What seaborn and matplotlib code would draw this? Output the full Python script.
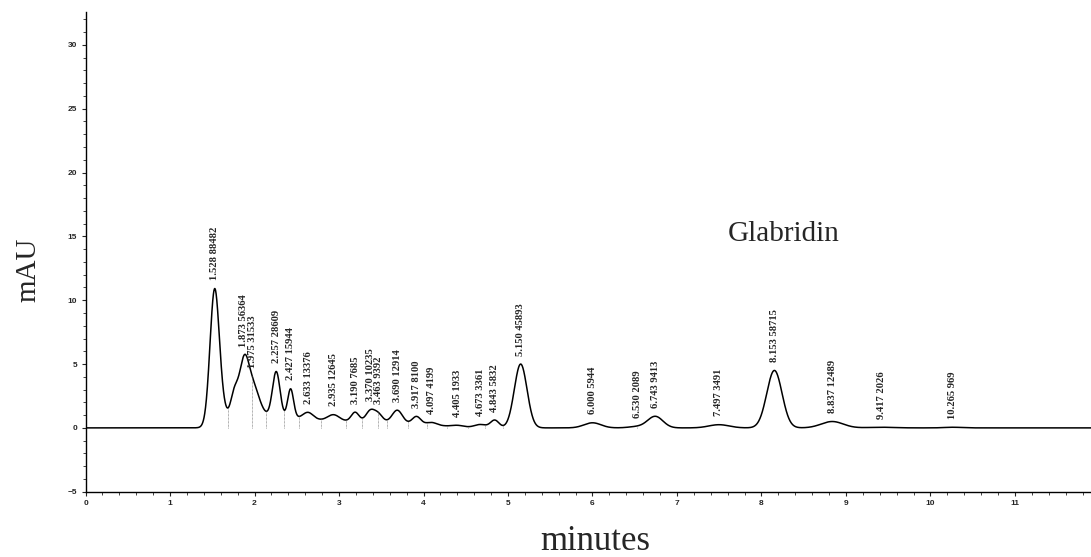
import numpy as np
import pandas as pd
import matplotlib
matplotlib.use("Agg")
import matplotlib.pyplot as plt
import seaborn as sns
from matplotlib.ticker import MultipleLocator

# Integrated peaks: retention time (min), area, apex height (mAU), width (sigma, min)
peak_rt = [1.528, 1.873, 1.975, 2.257, 2.427, 2.633, 2.935, 3.190, 3.370, 3.463,
           3.690, 3.917, 4.097, 4.405, 4.673, 4.843, 5.150, 6.000, 6.530, 6.743,
           7.497, 8.153, 8.837, 9.417, 10.265]
peak_area = [88482, 56364, 31533, 28609, 15944, 13376, 12645, 7685, 10235, 9392,
             12914, 8100, 4199, 1933, 3361, 5832, 45893, 5944, 2089, 9413,
             3491, 58715, 12489, 2026, 969]
peak_height = [10.7, 3.7, 2.2, 3.6, 2.3, 0.5, 0.5, 0.7, 0.8, 0.6,
               1.0, 0.6, 0.2, 0.12, 0.25, 0.6, 5.0, 0.4, 0.1, 0.9,
               0.25, 4.5, 0.5, 0.05, 0.05]
peak_width = [0.055, 0.055, 0.075, 0.045, 0.035, 0.06, 0.07, 0.045, 0.05, 0.05,
              0.06, 0.05, 0.06, 0.07, 0.07, 0.05, 0.075, 0.1, 0.1, 0.09,
              0.12, 0.09, 0.13, 0.15, 0.1]

# Unresolved tail, shoulder and raised baseline under the early cluster
hump_rt = [1.63, 1.76, 1.95, 2.5, 3.3, 4.0]
hump_height = [0.8, 2.0, 1.0, 0.7, 0.5, 0.2]
hump_width = [0.05, 0.045, 0.2, 0.3, 0.35, 0.3]

x_ticks = list(range(0, 12))
y_ticks = [-5, 0, 5, 10, 15, 20, 25, 30]
compound_name = "Glabridin"
compound_label_pos = (7.6, 14.6)

# Detector trace
t = np.linspace(0.0, 11.9, 6000)
signal = np.zeros_like(t)
for rt, h, w in zip(peak_rt + hump_rt, peak_height + hump_height, peak_width + hump_width):
    signal += h * np.exp(-0.5 * ((t - rt) / w) ** 2)
trace = pd.DataFrame({"minutes": t, "mAU": signal})

sns.set_style("ticks")
plt.rcParams["font.family"] = ["Liberation Serif", "DejaVu Serif"]

fig = plt.figure(figsize=(10.91, 5.57), dpi=100)
ax = fig.add_axes([0.0784, 0.1172, 0.9216, 0.8618])

sns.lineplot(data=trace, x="minutes", y="mAU", ax=ax, color="black", linewidth=1.1)

# Drop lines at the valleys between neighbouring peaks
for a, b in zip(peak_rt[:-1], peak_rt[1:]):
    seg = (t > a) & (t < b)
    if not seg.any():
        continue
    i = np.argmin(np.where(seg, signal, np.inf))
    if signal[i] > 0.08 and b - a < 0.45:
        ax.plot([t[i], t[i]], [0, signal[i]], color="#666666", lw=0.5, ls=(0, (1, 1)))

# Retention time / area labels above each peak
for rt, area in zip(peak_rt, peak_area):
    y = np.interp(rt, t, signal)
    ax.annotate(f"{rt:.3f} {area}", xy=(rt, y), xytext=(0, 6.0),
                textcoords="offset points", rotation=90, ha="center", va="bottom",
                fontsize=7.6, fontweight="bold", family="Liberation Serif")

ax.text(*compound_label_pos, compound_name, fontsize=21, family="Liberation Serif",
        ha="left", va="baseline")

ax.set_xlim(0, 11.9)
ax.set_ylim(-5, 32.6)
ax.set_xticks(x_ticks)
ax.set_yticks(y_ticks)
ax.xaxis.set_minor_locator(MultipleLocator(0.2))
ax.yaxis.set_minor_locator(MultipleLocator(1))
ax.tick_params(axis="both", which="major", length=3, width=0.8, direction="out", pad=3)
ax.tick_params(axis="both", which="minor", length=2, width=0.6, direction="out")
for lbl in ax.get_xticklabels() + ax.get_yticklabels():
    lbl.set_fontsize(6)
    lbl.set_fontweight("bold")
    lbl.set_family("Liberation Sans")

ax.set_xlabel("")
ax.set_ylabel("")
for side in ("top", "right"):
    ax.spines[side].set_visible(False)
for side in ("left", "bottom"):
    ax.spines[side].set_linewidth(1.0)
    ax.spines[side].set_color("black")

fig.text(28 / 1091, 1 - 270 / 557, "mAU", rotation=90, fontsize=21,
         family="Liberation Serif", ha="center", va="center")
fig.text(595 / 1091, 1 - 550 / 557, "minutes", fontsize=25,
         family="Liberation Serif", ha="center", va="baseline")

fig.savefig("out.png", dpi=100)
